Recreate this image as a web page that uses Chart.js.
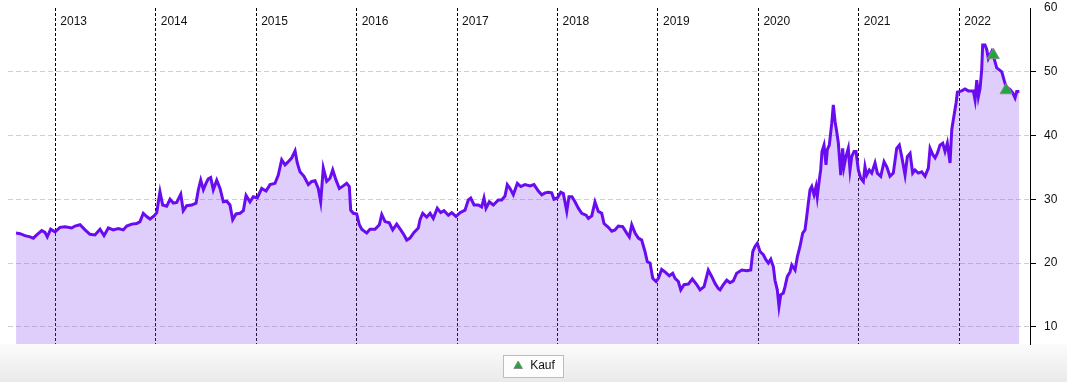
<!DOCTYPE html>
<html>
<head>
<meta charset="utf-8">
<script src="https://cdn.jsdelivr.net/npm/chart.js@4.4.1/dist/chart.umd.min.js"></script>
<style>
  html, body { margin: 0; padding: 0; background: #fff; }
  #wrap { width: 1067px; height: 382px; position: relative; }
</style>
</head>
<body>
<div id="wrap"><canvas id="chart"></canvas></div>
<script>
// dates as decimal years, prices
const dates = [
  2012.609, 2012.649, 2012.698, 2012.748, 2012.781, 2012.815, 2012.865, 2012.897, 2012.920, 2012.954,
  2012.997, 2013.047, 2013.097, 2013.163, 2013.196, 2013.246, 2013.296, 2013.345, 2013.395, 2013.445,
  2013.485, 2013.528, 2013.577, 2013.627, 2013.677, 2013.711, 2013.761, 2013.810, 2013.843, 2013.876,
  2013.910, 2013.943, 2013.983, 2014.010, 2014.025, 2014.042, 2014.069, 2014.109, 2014.142, 2014.175,
  2014.209, 2014.249, 2014.274, 2014.308, 2014.358, 2014.401, 2014.424, 2014.448, 2014.474, 2014.500,
  2014.523, 2014.547, 2014.573, 2014.607, 2014.640, 2014.673, 2014.707, 2014.739, 2014.766, 2014.799,
  2014.839, 2014.872, 2014.899, 2014.938, 2014.971, 2015.011, 2015.055, 2015.098, 2015.138, 2015.187,
  2015.220, 2015.254, 2015.287, 2015.320, 2015.354, 2015.387, 2015.409, 2015.436, 2015.476, 2015.519,
  2015.553, 2015.586, 2015.618, 2015.642, 2015.668, 2015.702, 2015.735, 2015.762, 2015.795, 2015.828,
  2015.867, 2015.901, 2015.927, 2015.941, 2015.967, 2016.001, 2016.027, 2016.051, 2016.100, 2016.133,
  2016.183, 2016.226, 2016.250, 2016.283, 2016.325, 2016.359, 2016.399, 2016.439, 2016.472, 2016.499,
  2016.531, 2016.571, 2016.614, 2016.631, 2016.658, 2016.698, 2016.731, 2016.763, 2016.803, 2016.837,
  2016.870, 2016.913, 2016.947, 2016.989, 2017.029, 2017.079, 2017.112, 2017.136, 2017.169, 2017.211,
  2017.245, 2017.268, 2017.288, 2017.321, 2017.361, 2017.411, 2017.444, 2017.477, 2017.500, 2017.527,
  2017.560, 2017.600, 2017.634, 2017.676, 2017.726, 2017.766, 2017.809, 2017.843, 2017.876, 2017.908,
  2017.942, 2017.965, 2017.998, 2018.032, 2018.058, 2018.092, 2018.114, 2018.144, 2018.174, 2018.207,
  2018.241, 2018.284, 2018.307, 2018.341, 2018.373, 2018.406, 2018.440, 2018.463, 2018.506, 2018.540,
  2018.572, 2018.605, 2018.649, 2018.689, 2018.715, 2018.739, 2018.772, 2018.805, 2018.838, 2018.871,
  2018.894, 2018.921, 2018.948, 2018.981, 2019.004, 2019.037, 2019.070, 2019.113, 2019.147, 2019.170,
  2019.203, 2019.227, 2019.259, 2019.302, 2019.342, 2019.386, 2019.419, 2019.459, 2019.501, 2019.535,
  2019.568, 2019.601, 2019.618, 2019.651, 2019.685, 2019.717, 2019.750, 2019.784, 2019.834, 2019.884,
  2019.924, 2019.944, 2019.966, 2019.989, 2020.016, 2020.049, 2020.076, 2020.099, 2020.123, 2020.149,
  2020.165, 2020.188, 2020.205, 2020.222, 2020.248, 2020.265, 2020.288, 2020.315, 2020.332, 2020.365,
  2020.388, 2020.414, 2020.441, 2020.464, 2020.481, 2020.497, 2020.514, 2020.531, 2020.554, 2020.574,
  2020.586, 2020.606, 2020.620, 2020.633, 2020.653, 2020.673, 2020.686, 2020.706, 2020.730, 2020.746,
  2020.763, 2020.780, 2020.796, 2020.820, 2020.839, 2020.852, 2020.872, 2020.895, 2020.912, 2020.929,
  2020.952, 2020.972, 2020.995, 2021.019, 2021.045, 2021.061, 2021.078, 2021.104, 2021.128, 2021.161,
  2021.184, 2021.218, 2021.251, 2021.278, 2021.310, 2021.343, 2021.377, 2021.403, 2021.427, 2021.460,
  2021.483, 2021.510, 2021.536, 2021.559, 2021.592, 2021.626, 2021.659, 2021.692, 2021.709, 2021.736,
  2021.759, 2021.781, 2021.808, 2021.835, 2021.858, 2021.881, 2021.908, 2021.925, 2021.941, 2021.968,
  2021.981, 2022.024, 2022.057, 2022.090, 2022.140, 2022.157, 2022.174, 2022.190, 2022.207, 2022.223,
  2022.233, 2022.256, 2022.273, 2022.289, 2022.323, 2022.346, 2022.373, 2022.399, 2022.423, 2022.446,
  2022.465, 2022.505, 2022.532, 2022.555, 2022.572, 2022.598
];
const prices = [
  24.7, 24.6, 24.3, 24.1, 23.9, 24.4, 25.1, 24.8, 24.1, 25.3,
  24.9, 25.6, 25.7, 25.5, 25.8, 26.0, 25.2, 24.5, 24.4, 25.3,
  24.3, 25.5, 25.2, 25.4, 25.2, 25.8, 26.1, 26.2, 26.5, 27.8,
  27.3, 26.9, 27.4, 27.9, 29.5, 31.2, 29.1, 28.9, 30.0, 29.4,
  29.5, 30.8, 28.2, 29.0, 29.1, 29.4, 31.5, 33.0, 31.5, 32.5,
  33.2, 33.4, 31.5, 33.0, 31.7, 29.6, 29.7, 29.1, 26.8, 27.7,
  27.8, 28.2, 30.6, 29.6, 30.4, 30.2, 31.7, 31.3, 32.3, 32.5,
  33.8, 36.2, 35.4, 35.9, 36.5, 37.6, 35.7, 34.3, 33.6, 32.3,
  32.8, 32.9, 31.7, 29.6, 34.9, 32.8, 33.3, 34.6, 33.0, 31.7,
  32.1, 32.5, 32.0, 28.3, 27.8, 27.7, 26.0, 25.3, 24.7, 25.3,
  25.3, 26.0, 27.6, 26.5, 26.3, 25.2, 26.1, 25.2, 24.4, 23.6,
  23.9, 24.8, 25.5, 26.8, 27.8, 27.2, 27.8, 27.0, 28.6, 27.9,
  28.2, 27.5, 27.9, 27.3, 27.9, 28.3, 29.9, 30.2, 29.1, 29.1,
  28.8, 30.2, 28.6, 29.6, 29.1, 29.9, 29.9, 30.5, 32.3, 31.7,
  30.7, 32.5, 32.0, 32.3, 32.1, 32.3, 31.3, 30.7, 31.0, 31.1,
  31.0, 30.0, 30.2, 31.1, 30.9, 28.1, 30.4, 30.4, 29.6, 28.6,
  27.8, 27.5, 27.0, 27.4, 29.6, 28.1, 27.8, 26.2, 25.6, 25.0,
  25.2, 25.8, 25.7, 24.7, 24.1, 26.0, 24.7, 23.9, 23.6, 21.8,
  20.2, 20.0, 17.6, 17.1, 17.6, 19.0, 18.6, 18.0, 18.4, 17.6,
  17.1, 15.8, 16.6, 16.7, 17.5, 16.6, 15.8, 16.3, 18.9, 17.9,
  16.8, 16.0, 15.8, 16.6, 17.3, 16.9, 17.2, 18.4, 18.9, 18.8,
  18.9, 21.8, 22.6, 23.1, 21.8, 21.3, 20.5, 20.0, 20.6, 19.4,
  17.3, 15.8, 13.2, 15.0, 15.3, 16.3, 17.9, 18.6, 19.7, 18.9,
  21.0, 22.6, 24.7, 25.2, 27.3, 29.4, 31.5, 32.0, 30.7, 32.0,
  30.4, 33.0, 34.6, 37.5, 38.5, 35.4, 37.8, 38.5, 41.9, 44.8,
  42.2, 40.6, 38.8, 33.8, 38.0, 35.1, 36.7, 38.0, 34.6, 36.7,
  37.5, 37.5, 34.6, 33.3, 32.8, 35.1, 33.8, 34.6, 34.1, 35.7,
  34.1, 33.6, 35.9, 35.1, 33.6, 34.1, 38.0, 38.5, 36.7, 33.8,
  36.7, 37.2, 34.1, 34.6, 34.1, 34.3, 33.6, 34.9, 38.0, 37.0,
  36.5, 37.2, 38.5, 38.8, 37.5, 38.8, 35.7, 40.9, 42.5, 45.1,
  46.8, 47.0, 47.3, 47.0, 47.0, 45.6, 48.7, 46.1, 47.4, 50.3,
  54.2, 54.2, 53.5, 52.1, 53.2, 52.1, 50.6, 50.3, 50.0, 48.7,
  47.7, 47.2, 46.7, 45.9, 46.9, 46.9
];
const buyDates = [2022.339, 2022.466];
const buyPrices = [52.6, 47.1];
const yearTicks = [2013, 2014, 2015, 2016, 2017, 2018, 2019, 2020, 2021, 2022];
const yearLabels = ['2013', '2014', '2015', '2016', '2017', '2018', '2019', '2020', '2021', '2022'];
const priceTicks = [10, 20, 30, 40, 50, 60];

const FONT = 'Liberation Sans, Arial, Helvetica, sans-serif';

// background, bottom strip gradient and legend frame
const framePlugin = {
  id: 'frame',
  beforeDraw(chart) {
    const { ctx, width, height, chartArea } = chart;
    ctx.save();
    ctx.fillStyle = '#fff';
    ctx.fillRect(0, 0, width, height);
    const g = ctx.createLinearGradient(0, chartArea.bottom, 0, height);
    g.addColorStop(0, '#fbfbfb');
    g.addColorStop(1, '#eaeaea');
    ctx.fillStyle = g;
    ctx.fillRect(0, chartArea.bottom, width, height - chartArea.bottom);
    const hb = chart.legend && chart.legend.legendHitBoxes && chart.legend.legendHitBoxes[0];
    if (hb) {
      const x = Math.round(hb.left - 9) + 0.5;
      const y = Math.round(hb.top - 5) + 0.5;
      const w = Math.round(hb.width + 17);
      const h = Math.round(hb.height + 10);
      ctx.fillStyle = '#fdfdfd';
      ctx.fillRect(x, y, w, h);
      ctx.strokeStyle = '#bdbdbd';
      ctx.lineWidth = 1;
      ctx.strokeRect(x, y, w, h);
    }
    ctx.restore();
  }
};

// year names next to the dashed year lines
const yearLabelPlugin = {
  id: 'yearLabels',
  afterDatasetsDraw(chart) {
    const { ctx, scales } = chart;
    ctx.save();
    ctx.font = '12px ' + FONT;
    ctx.fillStyle = '#111';
    ctx.textAlign = 'left';
    ctx.textBaseline = 'middle';
    yearTicks.forEach((yr, i) => {
      const x = scales.x.getPixelForValue(yr);
      ctx.fillText(yearLabels[i], x + 5, 22);
    });
    ctx.restore();
  }
};

const isTop = (ctx) => ctx.tick && ctx.tick.value === 60;

new Chart('chart', {
  type: 'line',
  data: {
    datasets: [
      {
        type: 'scatter',
        label: 'Kauf',
        xAxisID: 'x',
        yAxisID: 'y',
        data: buyDates.map((d, i) => ({ x: d, y: buyPrices[i] })),
        backgroundColor: '#1ea83c',
        borderColor: '#8a8a8a',
        pointStyle: 'triangle',
        pointRadius: 7,
        pointBorderWidth: 1,
        pointBorderColor: '#8a8a8a',
        pointBackgroundColor: '#1ea83c'
      },
      {
        label: 'Kurs',
        xAxisID: 'x',
        yAxisID: 'y',
        data: dates.map((d, i) => ({ x: d, y: prices[i] })),
        borderColor: '#6a0cf0',
        backgroundColor: 'rgba(140, 80, 240, 0.28)',
        borderWidth: 3,
        pointRadius: 0,
        tension: 0,
        fill: 'start'
      }
    ]
  },
  options: {
    responsive: true,
    maintainAspectRatio: false,
    animation: false,
    layout: { padding: { left: 0, top: 8, right: 0, bottom: 0 } },
    plugins: {
      tooltip: { enabled: false },
      legend: {
        position: 'bottom',
        labels: {
          filter: (item) => item.text === 'Kauf',
          usePointStyle: true,
          boxHeight: 7,
          boxWidth: 12,
          padding: 10,
          color: '#111',
          font: { family: FONT, size: 12 }
        }
      }
    },
    scales: {
      x: {
        type: 'linear',
        min: 2012.529,
        max: 2022.704,
        afterBuildTicks: (scale) => { scale.ticks = yearTicks.map(v => ({ value: v })); },
        afterFit: (scale) => { scale.height = 6; },
        ticks: { display: false },
        grid: { color: '#000', lineWidth: 1, drawTicks: false },
        border: { display: false, dash: [3, 2] }
      },
      y: {
        position: 'right',
        min: 7.3,
        max: 60,
        afterBuildTicks: (scale) => { scale.ticks = priceTicks.map(v => ({ value: v })); },
        afterFit: (scale) => { scale.width = 37; scale.paddingTop = 0; scale.paddingBottom = 0; },
        ticks: {
          color: '#111',
          padding: 8,
          font: { family: FONT, size: 12 }
        },
        grid: {
          color: (c) => isTop(c) ? 'rgba(0,0,0,0)' : '#cfcfcf',
          lineWidth: 1,
          tickLength: 6,
          tickColor: (c) => isTop(c) ? 'rgba(0,0,0,0)' : '#000',
          tickBorderDash: []
        },
        border: { display: true, color: '#000', width: 1, dash: [5, 3] }
      },
      gutter: {
        type: 'linear',
        position: 'left',
        afterFit: (scale) => { scale.width = 8; scale.paddingTop = 0; scale.paddingBottom = 0; },
        ticks: { display: false },
        grid: { display: false },
        border: { display: false }
      }
    }
  },
  plugins: [framePlugin, yearLabelPlugin]
});
</script>
</body>
</html>
